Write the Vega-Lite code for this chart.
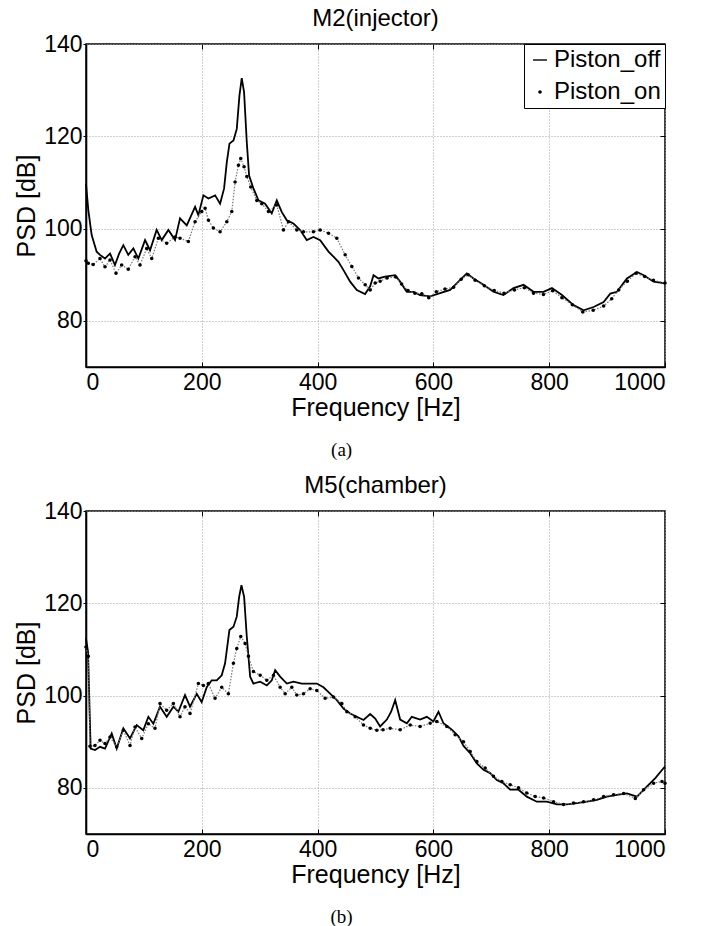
{
  "$schema": "https://vega.github.io/schema/vega-lite/v6.json",
  "padding": {"left": 13, "top": 6, "right": 10, "bottom": 5},
  "spacing": 13,
  "config": {
    "font": "Liberation Sans",
    "view": {"stroke": "black", "strokeWidth": 1.5},
    "axis": {"domainColor": "black", "domainWidth": 1.6, "tickColor": "black", "tickSize": 4, "labelFont": "Liberation Sans", "labelFontSize": 23, "labelColor": "black", "titleFont": "Liberation Sans", "titleFontSize": 25, "titleFontWeight": "normal", "titleColor": "black", "gridColor": "#a0a0a0", "gridDash": [1, 2], "gridWidth": 1, "labelPadding": 2},
    "axisX": {"titlePadding": 0.5, "tickSize": -5, "labelPadding": 9.5, "format": "d"},
    "axisY": {"titlePadding": 4, "tickSize": 3, "labelPadding": 1},
    "title": {"font": "Liberation Sans", "fontSize": 24, "fontWeight": "normal", "color": "black"},
    "legend": {"title": null, "orient": "top-right", "offset": 0, "strokeColor": "black", "fillColor": "white", "padding": 4, "labelFont": "Liberation Sans", "labelFontSize": 24, "labelColor": "black", "labelOffset": 2, "labelLimit": 300, "rowPadding": 8, "symbolSize": 196, "symbolFillColor": "black", "symbolStrokeWidth": 0, "symbolOpacity": 1}
  },
  "datasets": {
    "m2": [
      {"s":"Piston_off","f":0,"v":109.7},{"s":"Piston_off","f":4,"v":104},{"s":"Piston_off","f":9.8,"v":98.6},{"s":"Piston_off","f":18.4,"v":95},{"s":"Piston_off","f":24.2,"v":94.3},{"s":"Piston_off","f":32.8,"v":93.5},{"s":"Piston_off","f":41.5,"v":94.6},{"s":"Piston_off","f":50,"v":92.1},{"s":"Piston_off","f":57,"v":94.5},{"s":"Piston_off","f":64.5,"v":96.4},{"s":"Piston_off","f":73,"v":94.3},{"s":"Piston_off","f":81.8,"v":95.7},{"s":"Piston_off","f":90.4,"v":93.5},{"s":"Piston_off","f":102,"v":97.5},{"s":"Piston_off","f":110.6,"v":95.3},{"s":"Piston_off","f":122,"v":99.7},{"s":"Piston_off","f":130.8,"v":97.5},{"s":"Piston_off","f":142.3,"v":99.7},{"s":"Piston_off","f":153.8,"v":97.5},{"s":"Piston_off","f":162.4,"v":102.2},{"s":"Piston_off","f":174,"v":100.7},{"s":"Piston_off","f":188.4,"v":104.7},{"s":"Piston_off","f":194,"v":102.9},{"s":"Piston_off","f":202.8,"v":107.2},{"s":"Piston_off","f":211.5,"v":106.5},{"s":"Piston_off","f":223,"v":107.2},{"s":"Piston_off","f":231.6,"v":105.4},{"s":"Piston_off","f":238.5,"v":108.7},{"s":"Piston_off","f":243.2,"v":114.4},{"s":"Piston_off","f":247.8,"v":118.4},{"s":"Piston_off","f":254.7,"v":119.1},{"s":"Piston_off","f":260.4,"v":121.6},{"s":"Piston_off","f":265,"v":128.8},{"s":"Piston_off","f":269,"v":132.6},{"s":"Piston_off","f":273,"v":129.6},{"s":"Piston_off","f":277.7,"v":118.7},{"s":"Piston_off","f":281.7,"v":111.5},{"s":"Piston_off","f":289.2,"v":108.7},{"s":"Piston_off","f":297.8,"v":106.1},{"s":"Piston_off","f":309.3,"v":105.4},{"s":"Piston_off","f":320.8,"v":103.3},{"s":"Piston_off","f":329.5,"v":106.1},{"s":"Piston_off","f":338,"v":103.6},{"s":"Piston_off","f":346.8,"v":101.8},{"s":"Piston_off","f":358.3,"v":101.1},{"s":"Piston_off","f":369.8,"v":99.7},{"s":"Piston_off","f":381.3,"v":97.5},{"s":"Piston_off","f":392.8,"v":98.2},{"s":"Piston_off","f":404.4,"v":97.5},{"s":"Piston_off","f":418.8,"v":95},{"s":"Piston_off","f":427.4,"v":93.9},{"s":"Piston_off","f":436,"v":92.8},{"s":"Piston_off","f":444.7,"v":91},{"s":"Piston_off","f":456.2,"v":88.5},{"s":"Piston_off","f":467.7,"v":86.7},{"s":"Piston_off","f":482,"v":85.8},{"s":"Piston_off","f":490.8,"v":87.5},{"s":"Piston_off","f":496.6,"v":89.9},{"s":"Piston_off","f":505,"v":89.2},{"s":"Piston_off","f":516.5,"v":89.6},{"s":"Piston_off","f":533.8,"v":89.9},{"s":"Piston_off","f":542.5,"v":88.5},{"s":"Piston_off","f":554,"v":86.3},{"s":"Piston_off","f":565.5,"v":86.3},{"s":"Piston_off","f":577,"v":85.6},{"s":"Piston_off","f":594.4,"v":85.3},{"s":"Piston_off","f":611.6,"v":86},{"s":"Piston_off","f":628.9,"v":86.7},{"s":"Piston_off","f":643.3,"v":88.5},{"s":"Piston_off","f":657.7,"v":90.3},{"s":"Piston_off","f":669.2,"v":89.2},{"s":"Piston_off","f":686.5,"v":87.8},{"s":"Piston_off","f":703.8,"v":86.3},{"s":"Piston_off","f":721,"v":85.6},{"s":"Piston_off","f":738.4,"v":87.1},{"s":"Piston_off","f":755.7,"v":87.8},{"s":"Piston_off","f":773,"v":86.3},{"s":"Piston_off","f":790.3,"v":86.3},{"s":"Piston_off","f":804.7,"v":87.1},{"s":"Piston_off","f":822,"v":85.6},{"s":"Piston_off","f":842.1,"v":83.4},{"s":"Piston_off","f":859.4,"v":82.3},{"s":"Piston_off","f":876.7,"v":83},{"s":"Piston_off","f":894,"v":84.1},{"s":"Piston_off","f":905.5,"v":85.9},{"s":"Piston_off","f":917,"v":86.3},{"s":"Piston_off","f":934.3,"v":89.2},{"s":"Piston_off","f":951.6,"v":90.6},{"s":"Piston_off","f":963.1,"v":89.9},{"s":"Piston_off","f":980.4,"v":88.5},{"s":"Piston_off","f":997.7,"v":88.2},{"s":"Piston_off","f":1000,"v":88},
      {"s":"Piston_on","f":0,"v":93},{"s":"Piston_on","f":4,"v":92.5},{"s":"Piston_on","f":12.4,"v":92.2},{"s":"Piston_on","f":24.2,"v":93.5},{"s":"Piston_on","f":32.8,"v":91.7},{"s":"Piston_on","f":41.5,"v":93.2},{"s":"Piston_on","f":51.8,"v":90.3},{"s":"Piston_on","f":61.6,"v":92.1},{"s":"Piston_on","f":73,"v":91.2},{"s":"Piston_on","f":84.7,"v":93.9},{"s":"Piston_on","f":93.3,"v":92.1},{"s":"Piston_on","f":104.8,"v":95.7},{"s":"Piston_on","f":113.5,"v":93.5},{"s":"Piston_on","f":125,"v":97.9},{"s":"Piston_on","f":139.4,"v":96.8},{"s":"Piston_on","f":153.8,"v":98.2},{"s":"Piston_on","f":162.4,"v":97.9},{"s":"Piston_on","f":176.8,"v":97.2},{"s":"Piston_on","f":188.4,"v":101.5},{"s":"Piston_on","f":199.9,"v":103.7},{"s":"Piston_on","f":205.7,"v":104.4},{"s":"Piston_on","f":211.5,"v":101.8},{"s":"Piston_on","f":220,"v":100.1},{"s":"Piston_on","f":231.6,"v":99.3},{"s":"Piston_on","f":243.2,"v":101.5},{"s":"Piston_on","f":251.8,"v":103.7},{"s":"Piston_on","f":257.5,"v":110.1},{"s":"Piston_on","f":263.3,"v":113.7},{"s":"Piston_on","f":267.3,"v":115.2},{"s":"Piston_on","f":273,"v":113.4},{"s":"Piston_on","f":277.7,"v":111.3},{"s":"Piston_on","f":284.6,"v":109},{"s":"Piston_on","f":295,"v":106.1},{"s":"Piston_on","f":303.6,"v":105.4},{"s":"Piston_on","f":315.1,"v":103.7},{"s":"Piston_on","f":329.5,"v":105.1},{"s":"Piston_on","f":341,"v":99.7},{"s":"Piston_on","f":349.7,"v":101.5},{"s":"Piston_on","f":364.1,"v":99.7},{"s":"Piston_on","f":375.6,"v":99.3},{"s":"Piston_on","f":392.8,"v":99.3},{"s":"Piston_on","f":404.4,"v":99.7},{"s":"Piston_on","f":418.8,"v":99},{"s":"Piston_on","f":433.2,"v":97.9},{"s":"Piston_on","f":447.6,"v":94.3},{"s":"Piston_on","f":459.1,"v":91.8},{"s":"Piston_on","f":470.6,"v":89.3},{"s":"Piston_on","f":482.2,"v":87.8},{"s":"Piston_on","f":490.8,"v":86.7},{"s":"Piston_on","f":499.5,"v":88.2},{"s":"Piston_on","f":508,"v":88.6},{"s":"Piston_on","f":520,"v":89.3},{"s":"Piston_on","f":535,"v":89.5},{"s":"Piston_on","f":545,"v":88},{"s":"Piston_on","f":556,"v":86.6},{"s":"Piston_on","f":568,"v":86},{"s":"Piston_on","f":580,"v":85.9},{"s":"Piston_on","f":592,"v":85},{"s":"Piston_on","f":605,"v":86.3},{"s":"Piston_on","f":620,"v":86.9},{"s":"Piston_on","f":635,"v":87.3},{"s":"Piston_on","f":648,"v":89},{"s":"Piston_on","f":660,"v":90},{"s":"Piston_on","f":672,"v":88.8},{"s":"Piston_on","f":688,"v":87.6},{"s":"Piston_on","f":705,"v":86.6},{"s":"Piston_on","f":722,"v":86},{"s":"Piston_on","f":740,"v":86.7},{"s":"Piston_on","f":757,"v":87.2},{"s":"Piston_on","f":773,"v":86},{"s":"Piston_on","f":790,"v":85.7},{"s":"Piston_on","f":806,"v":86.5},{"s":"Piston_on","f":822,"v":85},{"s":"Piston_on","f":840,"v":83.5},{"s":"Piston_on","f":858,"v":81.9},{"s":"Piston_on","f":876,"v":82.3},{"s":"Piston_on","f":894,"v":83.2},{"s":"Piston_on","f":908,"v":84.8},{"s":"Piston_on","f":920,"v":86.7},{"s":"Piston_on","f":935,"v":88.6},{"s":"Piston_on","f":950,"v":90.3},{"s":"Piston_on","f":965,"v":89.6},{"s":"Piston_on","f":980,"v":88.8},{"s":"Piston_on","f":1000,"v":88.2}
    ],
    "m5": [
      {"s":"Piston_off","f":0,"v":112.4},{"s":"Piston_off","f":3.5,"v":109.5},{"s":"Piston_off","f":8,"v":88.5},{"s":"Piston_off","f":15.5,"v":88.2},{"s":"Piston_off","f":24.2,"v":88.9},{"s":"Piston_off","f":32.8,"v":88.5},{"s":"Piston_off","f":44.4,"v":91.8},{"s":"Piston_off","f":53,"v":88.5},{"s":"Piston_off","f":64.5,"v":92.9},{"s":"Piston_off","f":76,"v":90.7},{"s":"Piston_off","f":87.5,"v":93.6},{"s":"Piston_off","f":99,"v":92.5},{"s":"Piston_off","f":107.7,"v":95.4},{"s":"Piston_off","f":116.3,"v":93.9},{"s":"Piston_off","f":127.8,"v":97.6},{"s":"Piston_off","f":139.4,"v":95.4},{"s":"Piston_off","f":150.9,"v":97.6},{"s":"Piston_off","f":159.5,"v":96.5},{"s":"Piston_off","f":171,"v":100.1},{"s":"Piston_off","f":179.7,"v":97.6},{"s":"Piston_off","f":191.2,"v":100.4},{"s":"Piston_off","f":199.8,"v":98.6},{"s":"Piston_off","f":208.5,"v":101.8},{"s":"Piston_off","f":217.1,"v":103.3},{"s":"Piston_off","f":225.8,"v":103.3},{"s":"Piston_off","f":234.4,"v":104.4},{"s":"Piston_off","f":240.2,"v":107},{"s":"Piston_off","f":247.7,"v":114.2},{"s":"Piston_off","f":254.7,"v":114.9},{"s":"Piston_off","f":260.4,"v":117.1},{"s":"Piston_off","f":264.5,"v":121.4},{"s":"Piston_off","f":268.5,"v":123.9},{"s":"Piston_off","f":273.1,"v":121.4},{"s":"Piston_off","f":277.7,"v":112.8},{"s":"Piston_off","f":283.5,"v":104.1},{"s":"Piston_off","f":289.2,"v":102.6},{"s":"Piston_off","f":300.8,"v":103},{"s":"Piston_off","f":312.3,"v":102.2},{"s":"Piston_off","f":320.9,"v":103.3},{"s":"Piston_off","f":326.7,"v":105.5},{"s":"Piston_off","f":335.3,"v":104.1},{"s":"Piston_off","f":346.8,"v":102.6},{"s":"Piston_off","f":358.3,"v":103},{"s":"Piston_off","f":372.7,"v":102.6},{"s":"Piston_off","f":387.1,"v":102.6},{"s":"Piston_off","f":398.6,"v":102.6},{"s":"Piston_off","f":410.1,"v":101.8},{"s":"Piston_off","f":421.6,"v":100.4},{"s":"Piston_off","f":433.2,"v":99},{"s":"Piston_off","f":444.7,"v":97.2},{"s":"Piston_off","f":456.2,"v":96.1},{"s":"Piston_off","f":467.7,"v":95.4},{"s":"Piston_off","f":479.3,"v":94.7},{"s":"Piston_off","f":490.8,"v":96},{"s":"Piston_off","f":499.5,"v":95},{"s":"Piston_off","f":508,"v":93.3},{"s":"Piston_off","f":519.6,"v":94.8},{"s":"Piston_off","f":527,"v":96.5},{"s":"Piston_off","f":534,"v":99},{"s":"Piston_off","f":542.6,"v":94.8},{"s":"Piston_off","f":554.1,"v":94},{"s":"Piston_off","f":562.7,"v":95.4},{"s":"Piston_off","f":577,"v":94.8},{"s":"Piston_off","f":588.6,"v":95.4},{"s":"Piston_off","f":600,"v":94.4},{"s":"Piston_off","f":608.8,"v":96.5},{"s":"Piston_off","f":617.4,"v":94},{"s":"Piston_off","f":631.8,"v":92.6},{"s":"Piston_off","f":643.3,"v":91.2},{"s":"Piston_off","f":652,"v":89.1},{"s":"Piston_off","f":663.5,"v":87.5},{"s":"Piston_off","f":675,"v":85.3},{"s":"Piston_off","f":686.5,"v":83.9},{"s":"Piston_off","f":698,"v":83.2},{"s":"Piston_off","f":709.5,"v":81.7},{"s":"Piston_off","f":721,"v":81},{"s":"Piston_off","f":732.6,"v":79.6},{"s":"Piston_off","f":747,"v":79.6},{"s":"Piston_off","f":761.3,"v":78.1},{"s":"Piston_off","f":778.6,"v":77},{"s":"Piston_off","f":795.9,"v":77},{"s":"Piston_off","f":813.2,"v":76.4},{"s":"Piston_off","f":830.5,"v":76.4},{"s":"Piston_off","f":847.8,"v":76.7},{"s":"Piston_off","f":865.1,"v":77},{"s":"Piston_off","f":882.4,"v":77.4},{"s":"Piston_off","f":899.7,"v":78.1},{"s":"Piston_off","f":917,"v":78.5},{"s":"Piston_off","f":934.3,"v":78.8},{"s":"Piston_off","f":951.6,"v":78.1},{"s":"Piston_off","f":968.9,"v":80.3},{"s":"Piston_off","f":983.3,"v":82.1},{"s":"Piston_off","f":997.7,"v":84.3},{"s":"Piston_off","f":1000,"v":84.6},
      {"s":"Piston_on","f":0,"v":110.5},{"s":"Piston_on","f":4,"v":108.5},{"s":"Piston_on","f":6.9,"v":89},{"s":"Piston_on","f":15.5,"v":89.2},{"s":"Piston_on","f":24.2,"v":90.3},{"s":"Piston_on","f":32.8,"v":89.6},{"s":"Piston_on","f":41.5,"v":91},{"s":"Piston_on","f":53,"v":88.9},{"s":"Piston_on","f":64.5,"v":92.5},{"s":"Piston_on","f":76,"v":89.2},{"s":"Piston_on","f":84.7,"v":93.2},{"s":"Piston_on","f":96.2,"v":90.7},{"s":"Piston_on","f":107.7,"v":93.9},{"s":"Piston_on","f":119.2,"v":92.9},{"s":"Piston_on","f":127.8,"v":98.3},{"s":"Piston_on","f":139.4,"v":96.8},{"s":"Piston_on","f":150.9,"v":98.3},{"s":"Piston_on","f":162.4,"v":95.4},{"s":"Piston_on","f":171,"v":97.6},{"s":"Piston_on","f":179.7,"v":96.1},{"s":"Piston_on","f":194.1,"v":102.6},{"s":"Piston_on","f":202.7,"v":102.2},{"s":"Piston_on","f":211.4,"v":102.6},{"s":"Piston_on","f":222.9,"v":99.4},{"s":"Piston_on","f":234.4,"v":101.8},{"s":"Piston_on","f":245.9,"v":100.4},{"s":"Piston_on","f":254.6,"v":107},{"s":"Piston_on","f":260.4,"v":110.2},{"s":"Piston_on","f":267.3,"v":112.8},{"s":"Piston_on","f":274.8,"v":111.3},{"s":"Piston_on","f":280.6,"v":108.5},{"s":"Piston_on","f":289.2,"v":105.2},{"s":"Piston_on","f":300.8,"v":104.4},{"s":"Piston_on","f":312.3,"v":103.3},{"s":"Piston_on","f":323.8,"v":104.4},{"s":"Piston_on","f":335.3,"v":101.8},{"s":"Piston_on","f":344,"v":100.4},{"s":"Piston_on","f":355.5,"v":101.8},{"s":"Piston_on","f":364.1,"v":100.1},{"s":"Piston_on","f":375.6,"v":100.4},{"s":"Piston_on","f":387.1,"v":101.5},{"s":"Piston_on","f":398.6,"v":101.1},{"s":"Piston_on","f":413,"v":99.4},{"s":"Piston_on","f":427.4,"v":99.7},{"s":"Piston_on","f":441.8,"v":98.3},{"s":"Piston_on","f":450.5,"v":96.5},{"s":"Piston_on","f":464.9,"v":95.4},{"s":"Piston_on","f":479.3,"v":93.6},{"s":"Piston_on","f":490.8,"v":92.9},{"s":"Piston_on","f":502.3,"v":92.5},{"s":"Piston_on","f":513,"v":92.6},{"s":"Piston_on","f":525.3,"v":92.9},{"s":"Piston_on","f":542.6,"v":92.6},{"s":"Piston_on","f":559.9,"v":93.6},{"s":"Piston_on","f":577,"v":93.3},{"s":"Piston_on","f":594.4,"v":94},{"s":"Piston_on","f":605.9,"v":94.4},{"s":"Piston_on","f":623.2,"v":93.3},{"s":"Piston_on","f":637.6,"v":91.5},{"s":"Piston_on","f":652,"v":90},{"s":"Piston_on","f":663.5,"v":87.9},{"s":"Piston_on","f":675,"v":85.7},{"s":"Piston_on","f":689.4,"v":84.3},{"s":"Piston_on","f":703.8,"v":82.5},{"s":"Piston_on","f":718.2,"v":81.4},{"s":"Piston_on","f":732.6,"v":80.7},{"s":"Piston_on","f":747,"v":80},{"s":"Piston_on","f":761.3,"v":78.9},{"s":"Piston_on","f":775.8,"v":78.1},{"s":"Piston_on","f":790.3,"v":77.8},{"s":"Piston_on","f":807.5,"v":77},{"s":"Piston_on","f":824.8,"v":76.4},{"s":"Piston_on","f":842.1,"v":76.7},{"s":"Piston_on","f":859.4,"v":77},{"s":"Piston_on","f":876.7,"v":77.4},{"s":"Piston_on","f":894,"v":78.1},{"s":"Piston_on","f":911.3,"v":78.5},{"s":"Piston_on","f":928.6,"v":78.8},{"s":"Piston_on","f":948.7,"v":77.7},{"s":"Piston_on","f":963.1,"v":79.6},{"s":"Piston_on","f":980.4,"v":81},{"s":"Piston_on","f":994.8,"v":81.4},{"s":"Piston_on","f":1000,"v":81}
    ]
  },
  "vconcat": [
    {
      "title": {"text": "(a)", "orient": "bottom", "font": "Liberation Serif", "fontSize": 19, "offset": 20, "anchor": "middle"},
      "vconcat": [
        {
          "title": {"text": "M2(injector)", "offset": 2, "frame": "group", "anchor": "middle"},
          "width": 579, "height": 323,
          "data": {"name": "m2"},
          "encoding": {
            "x": {"field": "f", "type": "quantitative", "scale": {"domain": [0, 1000], "nice": false}, "axis": {"values": [0, 200, 400, 600, 800, 1000], "title": "Frequency [Hz]"}},
            "y": {"field": "v", "type": "quantitative", "scale": {"domain": [70, 140], "nice": false}, "axis": {"values": [80, 100, 120, 140], "title": "PSD [dB]"}}
          },
          "resolve": {"axis": {"x": "independent", "y": "independent"}},
          "layer": [
            {"transform": [{"filter": "datum.s === 'Piston_off'"}], "mark": {"type": "line", "color": "black", "strokeWidth": 1.8}},
            {"transform": [{"filter": "datum.s === 'Piston_on'"}], "mark": {"type": "line", "color": "#777777", "strokeWidth": 1.2, "strokeDash": [1.5, 1.5]},
             "encoding": {
               "x": {"field": "f", "type": "quantitative", "axis": {"orient": "top", "values": [200, 400, 600, 800], "labels": false, "title": null, "grid": false, "domain": false, "tickSize": -5}},
               "y": {"field": "v", "type": "quantitative", "axis": {"orient": "right", "values": [80, 100, 120], "labels": false, "title": null, "grid": false, "domain": false, "tickSize": -5}}
             }},
            {"transform": [{"filter": "datum.s === 'Piston_on'"}], "mark": {"type": "point", "filled": true, "color": "black", "size": 196, "opacity": 1},
             "encoding": {
               "x": {"field": "f", "type": "quantitative", "axis": null},
               "y": {"field": "v", "type": "quantitative", "axis": null},
               "shape": {"field": "s", "type": "nominal", "scale": {"domain": ["Piston_off", "Piston_on"], "range": ["M-1,-0.1L1,-0.1L1,0.1L-1,0.1Z", "M-0.25,0A0.25,0.25,0,1,0,0.25,0A0.25,0.25,0,1,0,-0.25,0Z"]}, "legend": {"title": null}}}}
          ]
        }
      ]
    },
    {
      "title": {"text": "(b)", "orient": "bottom", "font": "Liberation Serif", "fontSize": 19, "offset": 20, "anchor": "middle"},
      "vconcat": [
        {
          "title": {"text": "M5(chamber)", "offset": 2, "frame": "group", "anchor": "middle"},
          "width": 579, "height": 323,
          "data": {"name": "m5"},
          "encoding": {
            "x": {"field": "f", "type": "quantitative", "scale": {"domain": [0, 1000], "nice": false}, "axis": {"values": [0, 200, 400, 600, 800, 1000], "title": "Frequency [Hz]"}},
            "y": {"field": "v", "type": "quantitative", "scale": {"domain": [70, 140], "nice": false}, "axis": {"values": [80, 100, 120, 140], "title": "PSD [dB]"}}
          },
          "resolve": {"axis": {"x": "independent", "y": "independent"}},
          "layer": [
            {"transform": [{"filter": "datum.s === 'Piston_off'"}], "mark": {"type": "line", "color": "black", "strokeWidth": 1.8}},
            {"transform": [{"filter": "datum.s === 'Piston_on'"}], "mark": {"type": "line", "color": "#777777", "strokeWidth": 1.2, "strokeDash": [1.5, 1.5]},
             "encoding": {
               "x": {"field": "f", "type": "quantitative", "axis": {"orient": "top", "values": [200, 400, 600, 800], "labels": false, "title": null, "grid": false, "domain": false, "tickSize": -5}},
               "y": {"field": "v", "type": "quantitative", "axis": {"orient": "right", "values": [80, 100, 120], "labels": false, "title": null, "grid": false, "domain": false, "tickSize": -5}}
             }},
            {"transform": [{"filter": "datum.s === 'Piston_on'"}], "mark": {"type": "point", "filled": true, "color": "black", "size": 196, "opacity": 1},
             "encoding": {
               "x": {"field": "f", "type": "quantitative", "axis": null},
               "y": {"field": "v", "type": "quantitative", "axis": null},
               "shape": {"field": "s", "type": "nominal", "scale": {"domain": ["Piston_off", "Piston_on"], "range": ["M-1,-0.1L1,-0.1L1,0.1L-1,0.1Z", "M-0.25,0A0.25,0.25,0,1,0,0.25,0A0.25,0.25,0,1,0,-0.25,0Z"]}, "legend": {"title": null}}}}
          ]
        }
      ]
    }
  ]
}
